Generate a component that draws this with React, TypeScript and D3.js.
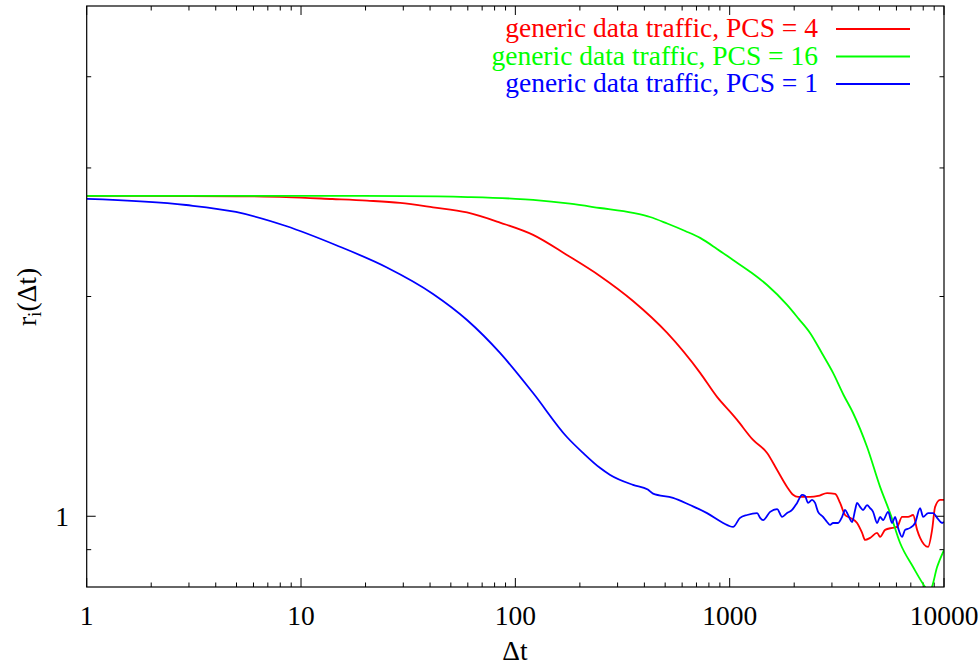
import React from "react";
import * as d3 from "d3";

type Pt = [number, number];

const xMajorTicks = [1, 10, 100, 1000, 10000];
const xTickLabels = ["1", "10", "100", "1000", "10000"];
const yMajorTicks = [1];
const yTickLabels = ["1"];
const yMinorTicks = [0.9, 2, 3, 4];

const seriesNames = [
  "generic data traffic, PCS = 4",
  "generic data traffic, PCS = 16",
  "generic data traffic, PCS = 1",
];
const seriesColors = ["#ff0000", "#00ff00", "#0000ff"];

const pcs4: Pt[] = [
  [1, 2.747], [3, 2.746], [5, 2.744], [8.5, 2.737], [14, 2.72], [20.3, 2.706],
  [29, 2.687], [41.3, 2.65], [59.5, 2.607], [84.8, 2.525], [121, 2.429], [174, 2.28],
  [248, 2.134], [354, 1.972], [511, 1.783], [728, 1.572], [873, 1.457], [1037, 1.376],
  [1083, 1.355], [1286, 1.272], [1495, 1.221], [1665, 1.157], [1853, 1.097], [1976, 1.07],
  [2085, 1.063], [2372, 1.063], [2585, 1.066], [2848, 1.076], [3103, 1.073], [3275, 1.043],
  [3455, 1.004], [3646, 0.995], [3931, 0.979], [4148, 0.949], [4284, 0.928], [4520, 0.934],
  [4874, 0.949], [5033, 0.937], [5310, 0.958], [5726, 0.964], [6041, 0.967], [6375, 0.998],
  [6800, 0.998], [7175, 1.004], [7491, 0.958], [7737, 0.934], [8432, 0.908], [8800, 0.958],
  [9089, 1.03], [9590, 1.053], [10000, 1.053],
];

const pcs16: Pt[] = [
  [1, 2.747], [10, 2.747], [30, 2.745], [60, 2.737], [100, 2.722], [121, 2.712],
  [180, 2.68], [248, 2.644], [354, 2.603], [425, 2.57], [511, 2.518], [620, 2.459],
  [728, 2.406], [873, 2.324], [1037, 2.244], [1250, 2.161], [1495, 2.074], [1853, 1.948],
  [2100, 1.864], [2372, 1.783], [2700, 1.671], [3037, 1.572], [3400, 1.466], [3765, 1.385],
  [4377, 1.244], [5033, 1.097], [5603, 1.01], [6240, 0.919], [7175, 0.852], [8164, 0.8],
  [8432, 0.79], [8700, 0.795], [9286, 0.852], [10000, 0.899],
];

const pcs1: Pt[] = [
  [1, 2.721], [2.91, 2.669], [4.97, 2.611], [8.51, 2.498], [14.6, 2.351], [24.9, 2.195],
  [41.3, 2.016], [59.5, 1.857], [84.8, 1.674], [121, 1.475], [174, 1.284], [207, 1.221],
  [248, 1.165], [277, 1.139], [354, 1.104], [415, 1.088], [439, 1.074], [544, 1.06],
  [653, 1.036], [784, 1.01], [932, 0.979], [1037, 0.967],
  [1118, 0.995], [1206, 1.004], [1343, 1.01], [1387, 0.995], [1432, 0.988], [1544, 1.014],
  [1665, 1.023], [1756, 0.998], [1853, 1.01], [1955, 1.02], [2063, 1.043], [2177, 1.07],
  [2248, 1.066], [2322, 1.043], [2424, 1.053], [2503, 1.043], [2585, 1.014], [2727, 0.998],
  [2848, 0.982], [2941, 0.973], [3037, 0.979], [3205, 0.979], [3346, 0.998], [3455, 1.02],
  [3568, 1.004], [3726, 0.982], [3848, 1.02], [3931, 1.043], [4060, 1.03], [4193, 1.02],
  [4377, 1.036], [4520, 1.026], [4668, 1.014], [4874, 0.979], [5033, 0.998], [5197, 0.988],
  [5484, 1.014], [5726, 0.979], [5912, 0.998], [6106, 0.964], [6375, 0.937], [6583, 0.958],
  [6949, 0.964], [7331, 0.979], [7737, 1.026], [7990, 0.998], [8432, 1.01], [8895, 1.01],
  [9286, 0.995], [9799, 0.979], [10000, 0.982],
];

const seriesData = [pcs4, pcs16, pcs1];

const W = 980;
const H = 668;
const L = 86.7;
const R = 944;
const T = 6;
const B = 587;
const FONT = "'Liberation Serif', 'Times New Roman', serif";
const FS = 27.5;

export default function App() {
  const x = d3.scaleLog().domain([1, 10000]).range([L, R]);
  const y = d3.scaleLog().domain([0.8, 5]).range([B, T]);

  const xMinor: number[] = [];
  for (let d = 1; d < 10000; d *= 10) {
    for (let k = 2; k <= 9; k++) xMinor.push(d * k);
  }

  const line = d3
    .line<Pt>()
    .x((d) => x(d[0]))
    .y((d) => y(d[1]))
    .curve(d3.curveMonotoneX);

  const majorLen = 9;
  const minorLen = 4.5;

  return (
    <svg
      width={W}
      height={H}
      style={{ position: "absolute", left: 0, top: 0, background: "#fff" }}
      fontFamily={FONT}
    >
      <defs>
        <clipPath id="plotclip">
          <rect x={L} y={T} width={R - L} height={B - T} />
        </clipPath>
      </defs>
      <rect x={0} y={0} width={W} height={H} fill="#fff" />

      <g stroke="#000" strokeWidth={1}>
        {xMajorTicks.map((t) => (
          <g key={"xm" + t}>
            <line x1={x(t)} x2={x(t)} y1={B} y2={B - majorLen} />
            <line x1={x(t)} x2={x(t)} y1={T} y2={T + majorLen} />
          </g>
        ))}
        {xMinor.map((t) => (
          <g key={"xn" + t}>
            <line x1={x(t)} x2={x(t)} y1={B} y2={B - minorLen} />
            <line x1={x(t)} x2={x(t)} y1={T} y2={T + minorLen} />
          </g>
        ))}
        {yMajorTicks.map((t) => (
          <g key={"ym" + t}>
            <line x1={L} x2={L + majorLen} y1={y(t)} y2={y(t)} />
            <line x1={R} x2={R - majorLen} y1={y(t)} y2={y(t)} />
          </g>
        ))}
        {yMinorTicks.map((t) => (
          <g key={"yn" + t}>
            <line x1={L} x2={L + minorLen} y1={y(t)} y2={y(t)} />
            <line x1={R} x2={R - minorLen} y1={y(t)} y2={y(t)} />
          </g>
        ))}
      </g>

      <g fontSize={FS} fill="#000">
        {xMajorTicks.map((t, i) => (
          <text key={"xl" + t} x={x(t)} y={625} textAnchor="middle">
            {xTickLabels[i]}
          </text>
        ))}
        {yMajorTicks.map((t, i) => (
          <text key={"yl" + t} x={69} y={y(t) + 9.5} textAnchor="end">
            {yTickLabels[i]}
          </text>
        ))}
      </g>

      <text x={515} y={660} fontSize={FS} textAnchor="middle">
        Δt
      </text>
      <text
        transform={`translate(36, 297) rotate(-90)`}
        fontSize={FS}
        textAnchor="middle"
      >
        r<tspan fontSize={FS * 0.7} dy={5}>i</tspan>
        <tspan dy={-5}>(Δt)</tspan>
      </text>

      <g clipPath="url(#plotclip)" fill="none" strokeWidth={1.8} strokeLinejoin="round">
        {seriesData.map((s, i) => (
          <path key={i} d={line(s) || ""} stroke={seriesColors[i]} />
        ))}
      </g>

      <g fontSize={FS}>
        {seriesNames.map((n, i) => (
          <g key={n}>
            <text x={818} y={37 + i * 27.5} textAnchor="end" fill={seriesColors[i]}>
              {n}
            </text>
            <line
              x1={836}
              x2={910}
              y1={29 + i * 27.5}
              y2={29 + i * 27.5}
              stroke={seriesColors[i]}
              strokeWidth={1.8}
            />
          </g>
        ))}
      </g>

      <rect x={L} y={T} width={R - L} height={B - T} fill="none" stroke="#000" strokeWidth={1.2} />
    </svg>
  );
}
